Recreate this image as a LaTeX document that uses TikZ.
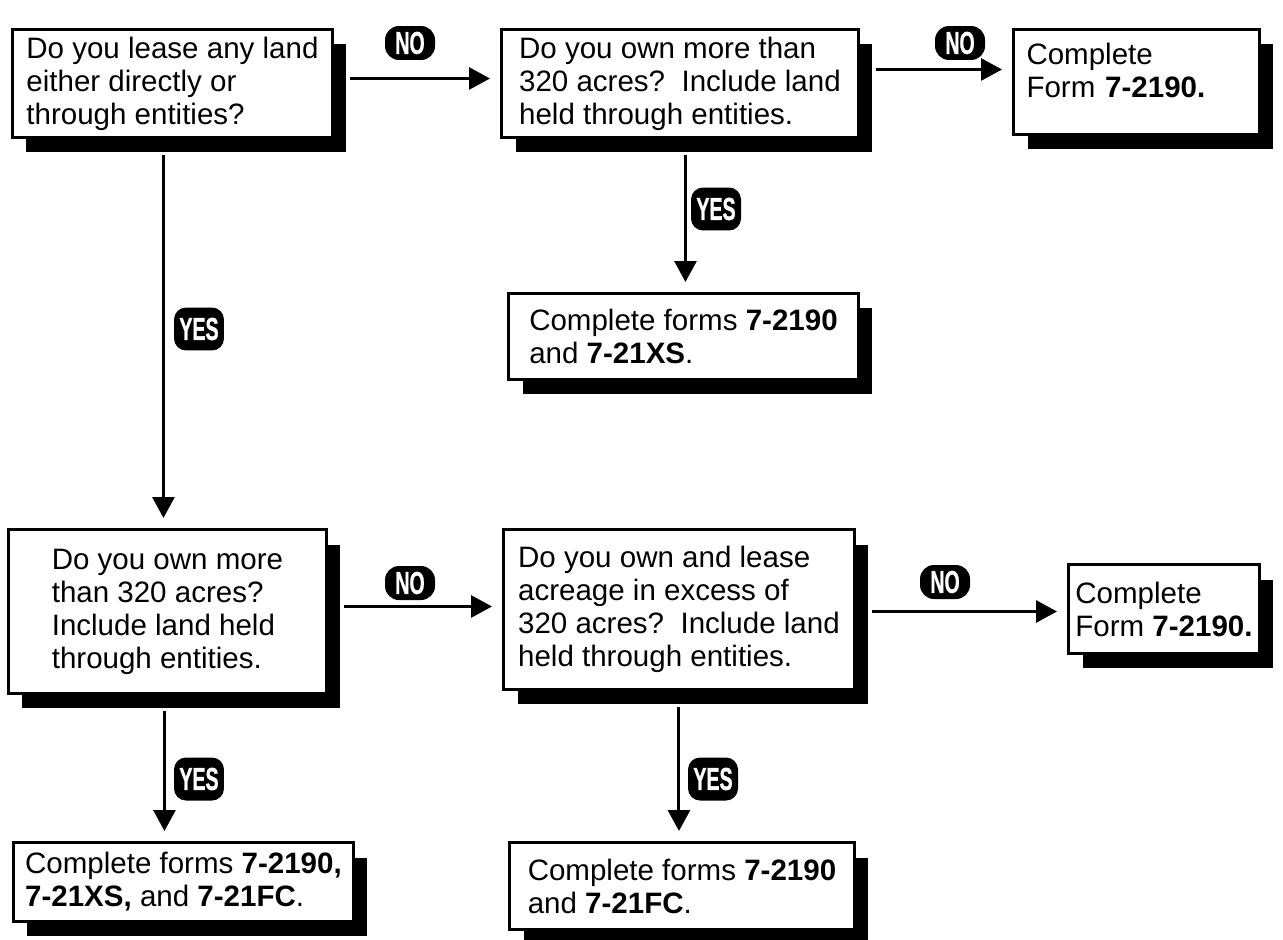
\documentclass[tikz,border=0pt]{standalone}
\usepackage{fontspec}
\setmainfont{Liberation Sans}
\newfontfamily\heavyfont{Liberation Sans}[BoldFeatures={FakeBold=1.2}]
\usetikzlibrary{shadows}
\usetikzlibrary{arrows.meta}
\newcommand{\badgelabel}[1]{\scalebox{0.62}[1]{\heavyfont\bfseries #1}}

\begin{document}
\begin{tikzpicture}[x=0.02cm, y=-0.02cm,
  box/.style={draw, line width=0.06cm, fill=white, anchor=north west, align=left,
    inner sep=0.08cm, font=\fontsize{16.8}{18.8}\selectfont,
    drop shadow={shadow xshift=0.28cm, shadow yshift=-0.3cm, fill=black, opacity=1}},
  flow/.style={line width=0.06cm, -{Triangle[width=0.44cm,length=0.42cm]},
    shorten <=0.32cm, shorten >=0.2cm},
  badge/.style={fill=black, text=white, inner sep=0pt,
    font=\fontsize{18}{18}\selectfont},
  nobadge/.style={badge, rounded corners=0.28cm, minimum width=1.0cm, minimum height=0.68cm},
  yesbadge/.style={badge, rounded corners=0.24cm, minimum width=1.0cm, minimum height=0.86cm}]
\useasboundingbox (0,0) rectangle (1283,939);

% top row
\node[box, minimum width=6.40cm, minimum height=2.16cm] (q1) at (11,28)
  {Do you lease any land\\either directly or\\through entities?};
\node[box, minimum width=7.14cm, minimum height=2.16cm] (q2) at (500,28)
  {Do you own more than\\320 acres?\ \ Include land\\held through entities.};
\node[box, minimum width=4.92cm, minimum height=2.10cm, inner xsep=0.26cm, text width=4.4cm,
  text depth=32pt] (r3) at (1012,28)
  {Complete\\Form \textbf{7-2190.}};
\node[box, minimum width=7.00cm, minimum height=1.72cm] (r4) at (507,292)
  {Complete forms \textbf{7-2190}\\and \textbf{7-21XS}.};

% bottom row
\node[box, minimum width=6.36cm, minimum height=3.28cm] (q5) at (7,528)
  {Do you own more\\than 320 acres?\\Include land held\\through entities.};
\node[box, minimum width=7.02cm, minimum height=3.20cm] (q6) at (502,528)
  {Do you own and lease\\acreage in excess of\\320 acres?\ \ Include land\\held through entities.};
\node[box, minimum width=3.82cm, minimum height=1.78cm] (r7) at (1067,563)
  {Complete\\Form \textbf{7-2190.}};
\node[box, minimum width=6.80cm, minimum height=1.58cm] (r8) at (12,841)
  {Complete forms \textbf{7-2190,}\\\textbf{7-21XS,} and \textbf{7-21FC}.};
\node[box, minimum width=6.90cm, minimum height=1.74cm] (r9) at (508,841)
  {Complete forms \textbf{7-2190}\\and \textbf{7-21FC}.};

% NO arrows
\draw[flow] ([yshift=0.1cm]q1.east) -- ([yshift=0.1cm]q1.east -| q2.west);
\draw[flow] ([yshift=0.28cm]q2.east) -- ([yshift=0.28cm]q2.east -| r3.west);
\draw[flow] ([yshift=0.1cm]q5.east) -- ([yshift=0.1cm]q5.east -| q6.west);
\draw[flow] ([yshift=-0.04cm]q6.east) -- ([yshift=-0.04cm]q6.east -| r7.west);

% YES arrows
\draw[flow] ([xshift=-0.18cm]q1.south) -- ([xshift=-0.18cm]q1.south |- q5.north);
\draw[flow] ([xshift=0.11cm]q2.south) -- ([xshift=0.11cm]q2.south |- r4.north);
\draw[flow] ([xshift=-0.06cm]q5.south) -- ([xshift=-0.06cm]q5.south |- r8.north);
\draw[flow] (q6.south) -- (q6.south |- r9.north);

% labels
\node[nobadge] (n1) at (410,43) {\badgelabel{NO}};
\node[nobadge] (n2) at (960,43) {\badgelabel{NO}};
\node[nobadge] (n3) at (410,583) {\badgelabel{NO}};
\node[nobadge] (n4) at (945,582) {\badgelabel{NO}};
\node[yesbadge] (y1) at (199,329) {\badgelabel{YES}};
\node[yesbadge] (y2) at (716,209) {\badgelabel{YES}};
\node[yesbadge] (y3) at (199,779) {\badgelabel{YES}};
\node[yesbadge] (y4) at (713,779) {\badgelabel{YES}};
\end{tikzpicture}
\end{document}
